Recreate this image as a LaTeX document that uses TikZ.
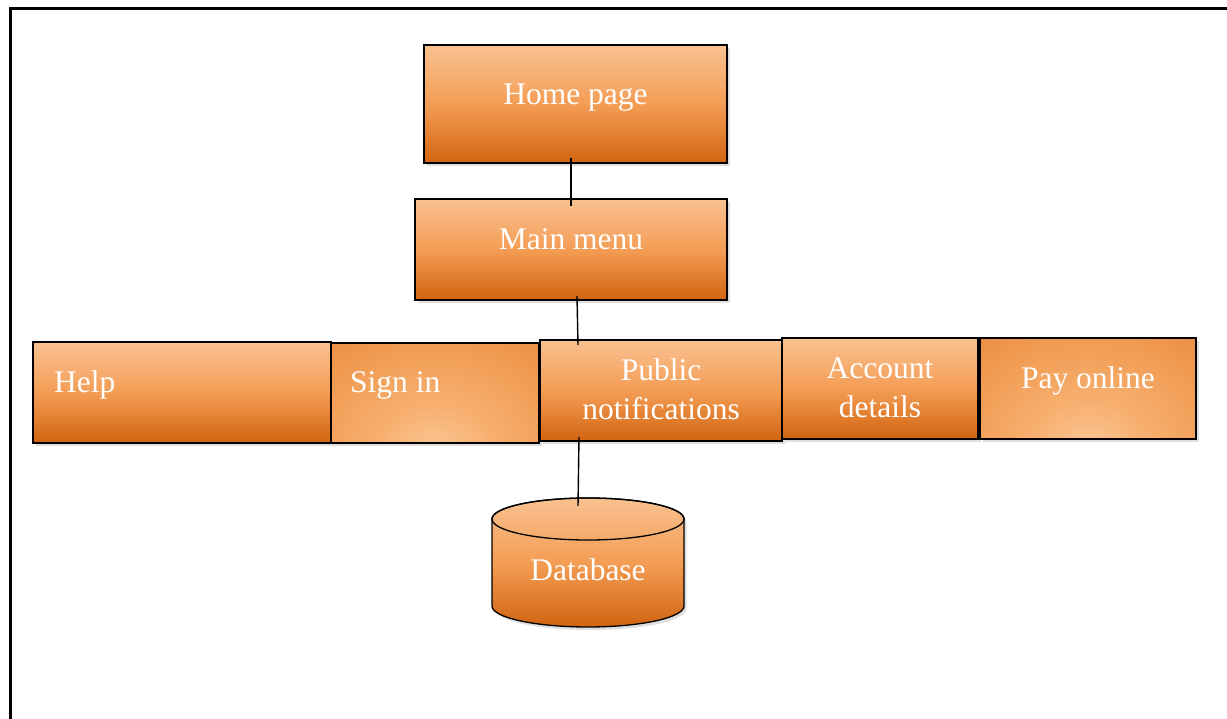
\documentclass[tikz,border=0pt]{standalone}
\usepackage{fontspec}
\setmainfont{Liberation Serif}
\usetikzlibrary{shadows}
\definecolor{otop}{HTML}{F9C190}
\definecolor{omid}{HTML}{F49D55}
\definecolor{obot}{HTML}{D1640F}
\definecolor{odark}{rgb}{0.75,0.37,0.08}
\pgfdeclareradialshading{glowc}{\pgfpoint{0bp}{0bp}}{%
  rgb(0bp)=(0.98,0.78,0.59); rgb(8bp)=(0.97,0.69,0.44);
  rgb(20bp)=(0.94,0.60,0.31); rgb(32bp)=(0.88,0.50,0.20);
  rgb(42bp)=(0.79,0.41,0.11); rgb(50bp)=(0.75,0.37,0.08)}
\tikzset{
  box/.style={draw=black, line width=1.3pt, inner sep=0pt, outer sep=0pt,
    top color=otop, bottom color=obot, middle color=omid,
    drop shadow={shadow xshift=2.5pt, shadow yshift=-3pt, opacity=0.25}},
  glowbox/.style={draw=black, line width=1.3pt, inner sep=0pt, outer sep=0pt,
    fill=odark,
    path picture={\shade[shading=glowc] ([yshift=-10pt]path picture bounding box.south)
      ellipse[x radius=175pt, y radius=145pt];},
    drop shadow={shadow xshift=2.5pt, shadow yshift=-3pt, opacity=0.25}},
  lbl/.style={text=white, font=\fontsize{31.5}{39}\selectfont, align=center, inner sep=0pt},
  conn/.style={draw=black, line width=1.4pt}
}
\begin{document}
\begin{tikzpicture}[x=1pt,y=1pt]
\useasboundingbox (0,0) rectangle (1227,-719);
\fill[white] (0,0) rectangle (1227,-719);
% frame
\draw[line width=3pt] (10.5,-719) -- (10.5,-8.5) -- (1227,-8.5);

% boxes
\node[box, minimum width=303pt, minimum height=118pt] (home) at (575.5,-104) {};
\node[box, minimum width=312pt, minimum height=101pt] (main) at (571,-249.5) {};
\node[box, minimum width=298pt, minimum height=101pt] (help) at (182,-392.5) {};
\node[glowbox, minimum width=208pt, minimum height=100pt] (sign) at (435,-393) {};
\node[box, minimum width=242pt, minimum height=101pt] (pub) at (661,-390.5) {};
\node[box, minimum width=196pt, minimum height=101pt] (acct) at (880,-388.5) {};
\node[glowbox, minimum width=216pt, minimum height=101pt] (pay) at (1088,-388.5) {};

% database cylinder
\path[draw=black, line width=1.3pt, top color=otop, bottom color=obot, middle color=omid,
  drop shadow={shadow xshift=2.5pt, shadow yshift=-3pt, opacity=0.25}]
  (492,-519) -- (492,-606) arc[start angle=180, end angle=360, x radius=96pt, y radius=21pt]
  -- (684,-519) arc[start angle=0, end angle=180, x radius=96pt, y radius=21pt] -- cycle;
\draw[line width=1.3pt] (588,-519) ellipse[x radius=96pt, y radius=21pt];
\coordinate (db) at (588,-498);

% labels
\node[lbl] (homet) at ([yshift=6pt]home.center) {Home page};
\node[lbl] (maint) at ([yshift=10pt]main.center) {Main menu};
\node[lbl, anchor=west] (helpt) at (54,-385) {Help};
\node[lbl, anchor=west] (signt) at (350,-385) {Sign in};
\node[lbl] (pubt) at (661,-389) {Public\\notifications};
\node[lbl] (acctt) at (880,-388) {Account\\details};
\node[lbl] (payt) at (1088,-381) {Pay online};
\node[lbl] (dbt) at (588,-570) {Database};

% connectors
\draw[conn] ([xshift=-4.5pt,yshift=5pt]home.south) -- ([yshift=-7pt]main.north);
\draw[conn] ([xshift=6pt,yshift=4pt]main.south) -- ([xshift=-83pt,yshift=-5pt]pub.north);
\draw[conn] ([xshift=-82pt,yshift=4pt]pub.south) -- ([xshift=-10pt,yshift=-8pt]db);
\end{tikzpicture}
\end{document}
